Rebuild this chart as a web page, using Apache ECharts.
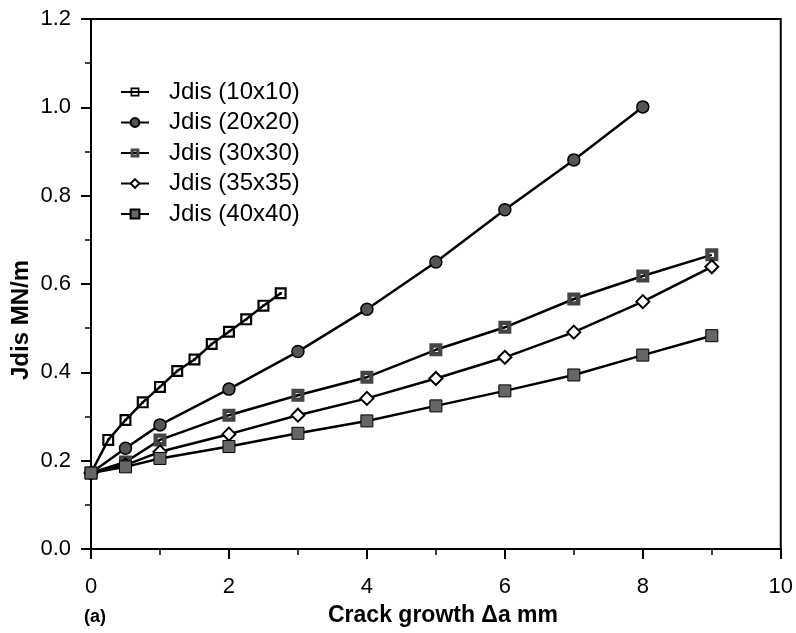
<!DOCTYPE html>
<html>
<head>
<meta charset="utf-8">
<script src="https://cdn.jsdelivr.net/npm/echarts@6/dist/echarts.min.js"></script>
<style>
  html, body { margin: 0; padding: 0; background: #fff; }
  #chart { width: 796px; height: 633px; }
</style>
</head>
<body>
<div id="chart"></div>
<script>
// crack growth (mm) for each specimen size
var x10 = [0, 0.25, 0.5, 0.75, 1, 1.25, 1.5, 1.75, 2, 2.25, 2.5, 2.75]
var x20 = [0, 0.5, 1, 2, 3, 4, 5, 6, 7, 8]
var xAll = [0, 0.5, 1, 2, 3, 4, 5, 6, 7, 8, 9]

// Jdis values (MN/m)
var j10 = [0.172, 0.247, 0.292, 0.332, 0.367, 0.403, 0.429, 0.464, 0.492, 0.520, 0.551, 0.579]
var j20 = [0.172, 0.228, 0.281, 0.362, 0.447, 0.543, 0.650, 0.768, 0.881, 1.001]
var j30 = [0.172, 0.197, 0.247, 0.303, 0.348, 0.389, 0.451, 0.502, 0.566, 0.618, 0.666]
var j35 = [0.172, 0.190, 0.220, 0.260, 0.303, 0.341, 0.386, 0.434, 0.491, 0.560, 0.639]
var j40 = [0.172, 0.186, 0.205, 0.232, 0.262, 0.290, 0.324, 0.358, 0.394, 0.439, 0.483]

var seriesNames = ['Jdis (10x10)', 'Jdis (20x20)', 'Jdis (30x30)', 'Jdis (35x35)', 'Jdis (40x40)']
var yTicks = ['0.0', '0.2', '0.4', '0.6', '0.8', '1.0', '1.2']

function pairs(xs, ys) {
  return xs.map(function (x, i) { return [x, ys[i]] })
}

var font = '"Liberation Sans", Arial, sans-serif'

function lineSeries(name, data, symbol, size, style) {
  return {
    name: name,
    type: 'line',
    data: data,
    symbol: symbol,
    symbolSize: size,
    showSymbol: true,
    lineStyle: { color: '#000', width: 2.5 },
    itemStyle: style,
    emphasis: { disabled: true },
    z: 3
  }
}

var chart = echarts.init(document.getElementById('chart'))
chart.setOption({
  backgroundColor: '#fff',
  animation: false,
  textStyle: { fontFamily: font, color: '#000' },
  grid: {
    left: 91,
    right: 12,
    top: 19,
    bottom: 84,
    show: true,
    borderColor: '#000',
    borderWidth: 2
  },
  legend: {
    orient: 'vertical',
    left: 115,
    top: 75,
    itemWidth: 28,
    itemHeight: 11,
    itemGap: 6.5,
    data: seriesNames,
    textStyle: { fontFamily: font, fontSize: 24, color: '#000', padding: [0, 0, 0, 15] }
  },
  xAxis: {
    type: 'value',
    min: 0,
    max: 10,
    interval: 2,
    axisLine: { lineStyle: { color: '#000', width: 2 } },
    axisTick: { show: true, inside: false, length: 10, lineStyle: { color: '#000', width: 2 } },
    minorTick: { show: true, splitNumber: 2, length: 6, lineStyle: { color: '#000', width: 1.5 } },
    axisLabel: { fontFamily: font, fontSize: 22, color: '#000', margin: 27 },
    splitLine: { show: false }
  },
  yAxis: {
    type: 'value',
    min: 0,
    max: 1.2,
    interval: 0.2,
    axisLine: { lineStyle: { color: '#000', width: 2 } },
    axisTick: { show: true, inside: false, length: 10, lineStyle: { color: '#000', width: 2 } },
    minorTick: { show: true, splitNumber: 2, length: 6, lineStyle: { color: '#000', width: 1.5 } },
    axisLabel: {
      fontFamily: font, fontSize: 22, color: '#000', margin: 20,
      formatter: function (v) { return yTicks[Math.round(v / 0.2)] }
    },
    splitLine: { show: false }
  },
  graphic: [
    {
      type: 'text',
      x: 443,
      y: 616,
      style: {
        text: 'Crack growth \u0394a mm', font: 'bold 23px ' + font, fill: '#000',
        textAlign: 'center', textVerticalAlign: 'middle'
      }
    },
    {
      type: 'text',
      x: 21,
      y: 320,
      rotation: Math.PI / 2,
      style: {
        text: 'Jdis MN/m', font: 'bold 24px ' + font, fill: '#000',
        textAlign: 'center', textVerticalAlign: 'middle'
      }
    },
    {
      type: 'text',
      x: 95,
      y: 617,
      style: {
        text: '(a)', font: 'bold 18px ' + font, fill: '#000',
        textAlign: 'center', textVerticalAlign: 'middle'
      }
    }
  ],
  series: [
    lineSeries(seriesNames[0], pairs(x10, j10),
      'path://M0 0H12V12H0Z M2.2 2.2V9.8H9.8V2.2Z M4.8 4.8H7.2V7.2H4.8Z', 12,
      { color: '#000' }),
    lineSeries(seriesNames[1], pairs(x20, j20), 'circle', 12,
      { color: '#555', borderColor: '#000', borderWidth: 1.5 }),
    lineSeries(seriesNames[2], pairs(xAll, j30),
      'path://M0 0H12V12H0Z M4 4V8H8V4Z', 13,
      { color: '#444' }),
    lineSeries(seriesNames[3], pairs(xAll, j35), 'diamond', 13,
      { color: '#fff', borderColor: '#000', borderWidth: 2 }),
    lineSeries(seriesNames[4], pairs(xAll, j40), 'rect', 12,
      { color: '#666', borderColor: '#000', borderWidth: 1 })
  ]
})
</script>
</body>
</html>
